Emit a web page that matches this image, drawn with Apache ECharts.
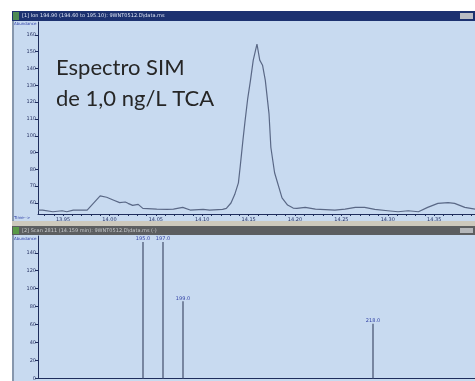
<!DOCTYPE html>
<html>
<head>
<meta charset="utf-8">
<script src="https://cdn.jsdelivr.net/npm/echarts@6/dist/echarts.min.js"></script>
<style>
  html, body { margin: 0; padding: 0; background: #fff; }
  #chart { width: 475px; height: 381px; }
</style>
</head>
<body>
<div id="chart"></div>
<script>
// top panel: ion chromatogram (time in min, abundance)
const times = [13.923, 13.928, 13.939, 13.949, 13.954, 13.961, 13.976, 13.990, 13.997, 14.004,
  14.011, 14.017, 14.020, 14.025, 14.031, 14.036, 14.051, 14.062, 14.069, 14.079,
  14.087, 14.101, 14.108, 14.122, 14.126, 14.131, 14.135, 14.139, 14.141, 14.144,
  14.146, 14.149, 14.152, 14.155, 14.159, 14.162, 14.165, 14.168, 14.172, 14.174,
  14.178, 14.186, 14.192, 14.198, 14.202, 14.211, 14.222, 14.243, 14.254, 14.265,
  14.275, 14.286, 14.300, 14.311, 14.322, 14.333, 14.343, 14.354, 14.365, 14.372,
  14.383, 14.394];
const abundance = [55.8, 55.8, 54.8, 55.4, 54.8, 55.8, 55.8, 64.2, 63.4, 61.8,
  60.2, 60.6, 59.8, 58.6, 59.2, 56.8, 56.4, 56.2, 56.4, 57.4,
  55.8, 56.2, 55.8, 56.2, 56.8, 60, 65, 72, 82, 98,
  108, 122, 133, 145, 154.6, 145, 142, 133, 113, 93,
  78, 63, 58.8, 57, 56.8, 57.4, 56.4, 55.8, 56.4, 57.4,
  57.4, 56.2, 55.4, 54.8, 55.4, 54.8, 57.4, 59.8, 60.2, 59.8,
  57.4, 56.4];
const timeTicks = [13.95, 14.00, 14.05, 14.10, 14.15, 14.20, 14.25, 14.30, 14.35];
const abundanceTicks = [60, 70, 80, 90, 100, 110, 120, 130, 140, 150, 160];

// bottom panel: SIM scan (m/z, abundance)
const ions = [195.0, 197.0, 199.0, 218.0];
const ionAbundance = [200, 190, 86, 61];
const ionTicks = [0, 20, 40, 60, 80, 100, 120, 140];

const minorTimeTicks = [];
for (let i = 393; i <= 439; i++) minorTimeTicks.push(i / 100 + 10);

const topMax = 167.7;
const bottomMax = 158.7;
const panelBg = '#c8daf0';
const axisColor = '#1f2d5c';
const tinyFont = { fontFamily: 'DejaVu Sans', fontSize: 5, color: '#2a3566' };

const chart = echarts.init(document.getElementById('chart'));

chart.setOption({
  backgroundColor: '#ffffff',
  animation: false,
  graphic: [
    { type: 'rect', z: -5, shape: { x: 12, y: 11, width: 463, height: 370 }, style: { fill: panelBg } },
    { type: 'rect', z: -4, shape: { x: 12, y: 11, width: 2, height: 370 }, style: { fill: '#8797ad' } },
    // top window title bar
    { type: 'rect', z: -3, shape: { x: 12, y: 11, width: 463, height: 10 }, style: { fill: '#1c3170' } },
    { type: 'rect', z: -2, shape: { x: 13, y: 12, width: 6, height: 8 }, style: { fill: '#4d8a55' } },
    { type: 'rect', z: -2, shape: { x: 460, y: 13, width: 13, height: 6 }, style: { fill: '#b9bcc4' } },
    { type: 'text', z: -2, left: 22, top: 13, style: { text: '[1] Ion 194.90 (194.60 to 195.10): 9WNT0512.D\\data.ms', fill: '#dfe6f5', font: '5px DejaVu Sans' } },
    // separator and bottom window title bar
    { type: 'rect', z: -3, shape: { x: 12, y: 221, width: 463, height: 5 }, style: { fill: '#cdc9bd' } },
    { type: 'rect', z: -3, shape: { x: 12, y: 226, width: 463, height: 9 }, style: { fill: '#5c5e60' } },
    { type: 'rect', z: -2, shape: { x: 13, y: 227, width: 6, height: 7 }, style: { fill: '#5a9a48' } },
    { type: 'rect', z: -2, shape: { x: 460, y: 228, width: 13, height: 5 }, style: { fill: '#b5b7ba' } },
    { type: 'text', z: -2, left: 22, top: 228, style: { text: '[2] Scan 2811 (14.159 min): 9WNT0512.D\\data.ms (-)', fill: '#c8cacc', font: '5px DejaVu Sans' } },
    // axis captions
    { type: 'text', left: 14, top: 22, style: { text: 'Abundance', fill: '#3040a8', font: '4px DejaVu Sans' } },
    { type: 'text', left: 14, top: 216, style: { text: 'Time-->', fill: '#3040a8', font: '4px DejaVu Sans' } },
    { type: 'text', left: 14, top: 237, style: { text: 'Abundance', fill: '#3040a8', font: '4px DejaVu Sans' } },
    // caption
    { type: 'text', left: 56, top: 57, style: { text: 'Espectro SIM', fill: '#262626', font: '22px Lato' } },
    { type: 'text', left: 56, top: 88, style: { text: 'de 1,0 ng/L TCA', fill: '#262626', font: '22px Lato' } }
  ],
  grid: [
    { left: 38, top: 22, right: 0, bottom: 167 },
    { left: 38, top: 236, right: 0, bottom: 1 }
  ],
  xAxis: [
    {
      gridIndex: 0, type: 'value', min: 13.923, max: 14.394,
      axisLine: { lineStyle: { color: axisColor, width: 1 } },
      axisTick: { customValues: minorTimeTicks, length: 2, lineStyle: { color: axisColor } },
      axisLabel: {
        customValues: timeTicks, margin: 3, ...tinyFont,
        formatter: v => v.toFixed(2)
      },
      splitLine: { show: false }
    },
    {
      gridIndex: 1, type: 'value', min: 184.5, max: 228.2,
      axisLine: { lineStyle: { color: axisColor } },
      axisTick: { show: false },
      axisLabel: { show: false },
      splitLine: { show: false }
    }
  ],
  yAxis: [
    {
      gridIndex: 0, type: 'value', min: 53.45, max: topMax,
      axisLine: { show: true, lineStyle: { color: axisColor, width: 1 } },
      axisTick: { customValues: abundanceTicks, length: 3, lineStyle: { color: axisColor } },
      axisLabel: { customValues: abundanceTicks, margin: 2, ...tinyFont },
      splitLine: { show: false }
    },
    {
      gridIndex: 1, type: 'value', min: 0, max: bottomMax,
      axisLine: { show: true, lineStyle: { color: axisColor, width: 1 } },
      axisTick: { customValues: ionTicks, length: 3, lineStyle: { color: axisColor } },
      axisLabel: { customValues: ionTicks, margin: 2, ...tinyFont },
      splitLine: { show: false }
    }
  ],
  series: [
    {
      type: 'line', xAxisIndex: 0, yAxisIndex: 0,
      data: times.map((t, i) => [t, abundance[i]]),
      showSymbol: false, silent: true,
      lineStyle: { color: '#5a6886', width: 1.2 }
    },
    {
      type: 'custom', xAxisIndex: 1, yAxisIndex: 1,
      data: ions.map((m, i) => [m, ionAbundance[i]]),
      silent: true,
      renderItem(params, api) {
        const m = api.value(0);
        const base = api.coord([m, 0]);
        const top = api.coord([m, Math.min(api.value(1), bottomMax)]);
        const ceil = params.coordSys.y + 6;
        const y = Math.max(top[1], ceil);
        return {
          type: 'group',
          children: [
            { type: 'line', shape: { x1: base[0], y1: base[1], x2: base[0], y2: y },
              style: { stroke: '#4c5875', lineWidth: 1.3 } },
            { type: 'text', x: base[0], y: y - 3,
              style: { text: m.toFixed(1), fill: '#3444a6', font: '5px DejaVu Sans', align: 'center', verticalAlign: 'middle' } }
          ]
        };
      }
    }
  ]
});
</script>
</body>
</html>
